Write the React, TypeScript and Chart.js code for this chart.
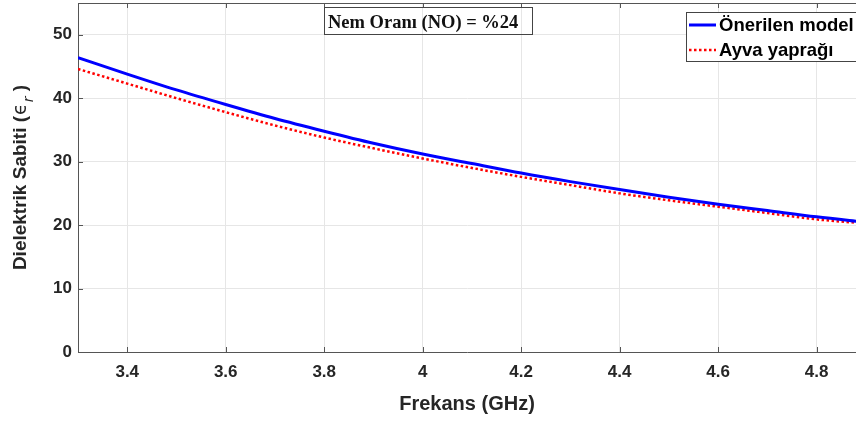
import React, { useEffect, useRef } from "react";
import { Chart, registerables } from "chart.js";

Chart.register(...registerables);

// ---- data ----
const frequencies = [3.3, 3.4, 3.5, 3.6, 3.7, 3.8, 3.9, 4.0, 4.1, 4.2, 4.3, 4.4, 4.5, 4.6, 4.7, 4.8, 4.9];
const proposedModel = [46.4, 43.8, 41.3, 39.0, 36.8, 34.8, 32.9, 31.2, 29.7, 28.2, 26.85, 25.6, 24.4, 23.3, 22.3, 21.3, 20.45];
const quinceLeaf = [44.6, 42.3, 40.0, 37.8, 35.7, 33.8, 32.1, 30.5, 29.0, 27.6, 26.3, 25.0, 23.9, 22.9, 21.9, 20.9, 20.25];
const seriesLabels = ["Önerilen model", "Ayva yaprağı"];
const xTickValues = [3.4, 3.6, 3.8, 4.0, 4.2, 4.4, 4.6, 4.8];
const yTickValues = [0, 10, 20, 30, 40, 50];
const annotationText = "Nem Oranı (NO) = %24";
const xTitle = "Frekans (GHz)";
const yTitleMain = "Dielektrik Sabiti (";
const yTitleSymbol = "ϵ";
const yTitleSub = "r";
const yTitleEnd = " )";

const SANS = "'Liberation Sans', Arial, sans-serif";
const TEXT = "#262626";
const AXIS = "#555555";

const decorPlugin = {
  id: "decor",
  afterDraw(chart: any) {
    const { ctx, chartArea } = chart;
    const { left, right, top, bottom } = chartArea;
    const xs = chart.scales.x;
    const ys = chart.scales.y;
    ctx.save();
    // top frame line
    ctx.strokeStyle = AXIS;
    ctx.lineWidth = 1;
    ctx.beginPath();
    ctx.moveTo(left, top + 0.5);
    ctx.lineTo(right, top + 0.5);
    ctx.stroke();
    // inward ticks
    const tl = 5;
    ctx.beginPath();
    xTickValues.forEach((v) => {
      const px = Math.round(xs.getPixelForValue(v)) + 0.5;
      ctx.moveTo(px, bottom);
      ctx.lineTo(px, bottom - tl);
      ctx.moveTo(px, top);
      ctx.lineTo(px, top + tl);
    });
    yTickValues.forEach((v) => {
      const py = Math.round(ys.getPixelForValue(v)) + 0.5;
      ctx.moveTo(left, py);
      ctx.lineTo(left + tl, py);
    });
    ctx.stroke();

    // annotation box (transparent)
    ctx.font = "bold 18.5px 'Liberation Serif', 'Times New Roman', serif";
    const bx = 324, by = 7, bw = 208, bh = 27;
    ctx.strokeStyle = "#444";
    ctx.strokeRect(bx + 0.5, by + 0.5, bw, bh);
    ctx.fillStyle = "#111";
    ctx.textBaseline = "alphabetic";
    ctx.textAlign = "left";
    ctx.fillText(annotationText, bx + 4, by + 21);

    // legend
    const lx = 686, ly = 12, lh = 49;
    ctx.fillStyle = "#ffffff";
    ctx.fillRect(lx, ly, chart.width - lx + 2, lh);
    ctx.strokeStyle = "#444";
    ctx.strokeRect(lx + 0.5, ly + 0.5, chart.width - lx + 2, lh);
    ctx.font = `bold 18.5px ${SANS}`;
    ctx.textBaseline = "middle";
    chart.data.datasets.forEach((ds: any, i: number) => {
      const cy = ly + 13 + i * 25;
      ctx.save();
      ctx.strokeStyle = ds.borderColor;
      ctx.lineWidth = ds.borderWidth;
      ctx.setLineDash(ds.borderDash || []);
      ctx.beginPath();
      ctx.moveTo(lx + 3, cy);
      ctx.lineTo(lx + 30, cy);
      ctx.stroke();
      ctx.restore();
      ctx.fillStyle = "#000";
      ctx.fillText(ds.label, lx + 33, cy + 1);
    });

    // y axis title with subscript
    ctx.translate(21, (top + bottom) / 2);
    ctx.rotate(-Math.PI / 2);
    const fMain = `bold 19px ${SANS}`;
    const fSym = `19px 'DejaVu Sans', sans-serif`;
    const fSub = `italic 14px 'DejaVu Sans', sans-serif`;
    ctx.font = fMain;
    const w1 = ctx.measureText(yTitleMain).width;
    const w4 = ctx.measureText(yTitleEnd).width;
    ctx.font = fSym;
    const w2 = ctx.measureText(yTitleSymbol).width;
    ctx.font = fSub;
    const w3 = ctx.measureText(yTitleSub).width;
    let x0 = -(w1 + w2 + w3 + w4 + 2) / 2;
    ctx.fillStyle = TEXT;
    ctx.textBaseline = "middle";
    ctx.font = fMain;
    ctx.fillText(yTitleMain, x0, 0);
    x0 += w1 + 1;
    ctx.font = fSym;
    ctx.fillText(yTitleSymbol, x0, 0);
    x0 += w2 + 1;
    ctx.font = fSub;
    ctx.fillText(yTitleSub, x0, 8);
    x0 += w3;
    ctx.font = fMain;
    ctx.fillText(yTitleEnd, x0, 0);
    ctx.restore();
  },
};

export default function App() {
  const ref = useRef<HTMLCanvasElement | null>(null);
  useEffect(() => {
    if (!ref.current) return;
    const chart = new Chart(ref.current, {
      type: "line",
      data: {
        datasets: [
          {
            label: seriesLabels[0],
            data: frequencies.map((f, i) => ({ x: f, y: proposedModel[i] })),
            borderColor: "#0000ff",
            borderWidth: 3,
            pointRadius: 0,
            cubicInterpolationMode: "monotone",
            fill: false,
          },
          {
            label: seriesLabels[1],
            data: frequencies.map((f, i) => ({ x: f, y: quinceLeaf[i] })),
            borderColor: "#ff0000",
            borderWidth: 2.5,
            borderDash: [2.5, 2.5],
            pointRadius: 0,
            cubicInterpolationMode: "monotone",
            fill: false,
          },
        ],
      },
      options: {
        animation: false,
        responsive: false,
        maintainAspectRatio: false,
        layout: { padding: { top: 3, right: 0, left: 0, bottom: 0 } },
        plugins: { legend: { display: false }, tooltip: { enabled: false } },
        scales: {
          x: {
            type: "linear",
            min: 3.3,
            max: 4.88,
            afterBuildTicks: (s: any) => {
              s.ticks = xTickValues.map((value) => ({ value }));
            },
            afterFit: (s: any) => {
              s.height = 69;
              s.paddingLeft = 0;
              s.paddingRight = 0;
            },
            grid: { color: "#e6e6e6", drawTicks: false },
            border: { display: true, color: AXIS, width: 1 },
            ticks: {
              color: TEXT,
              font: { family: SANS, size: 17, weight: "bold" },
              padding: 10,
              maxRotation: 0,
              autoSkip: false,
              callback: (v: any) => String(Math.round(Number(v) * 10) / 10),
            },
            title: {
              display: true,
              text: xTitle,
              color: TEXT,
              font: { family: SANS, size: 20, weight: "bold" },
              padding: { top: 0, bottom: 5 },
            },
          },
          y: {
            type: "linear",
            min: 0,
            max: 55,
            afterBuildTicks: (s: any) => {
              s.ticks = yTickValues.map((value) => ({ value }));
            },
            afterFit: (s: any) => {
              s.width = 78;
              s.paddingTop = 0;
              s.paddingBottom = 0;
            },
            grid: { color: "#e6e6e6", drawTicks: false },
            border: { display: true, color: AXIS, width: 1 },
            ticks: {
              color: TEXT,
              font: { family: SANS, size: 17, weight: "bold" },
              padding: 6,
              autoSkip: false,
            },
          },
        },
      },
      plugins: [decorPlugin],
    } as any);
    return () => chart.destroy();
  }, []);
  return (
    <div style={{ position: "absolute", left: 0, top: 0, width: 856, height: 421, background: "#fff" }}>
      <canvas ref={ref} width={856} height={421} style={{ display: "block", width: 856, height: 421 }} />
    </div>
  );
}
